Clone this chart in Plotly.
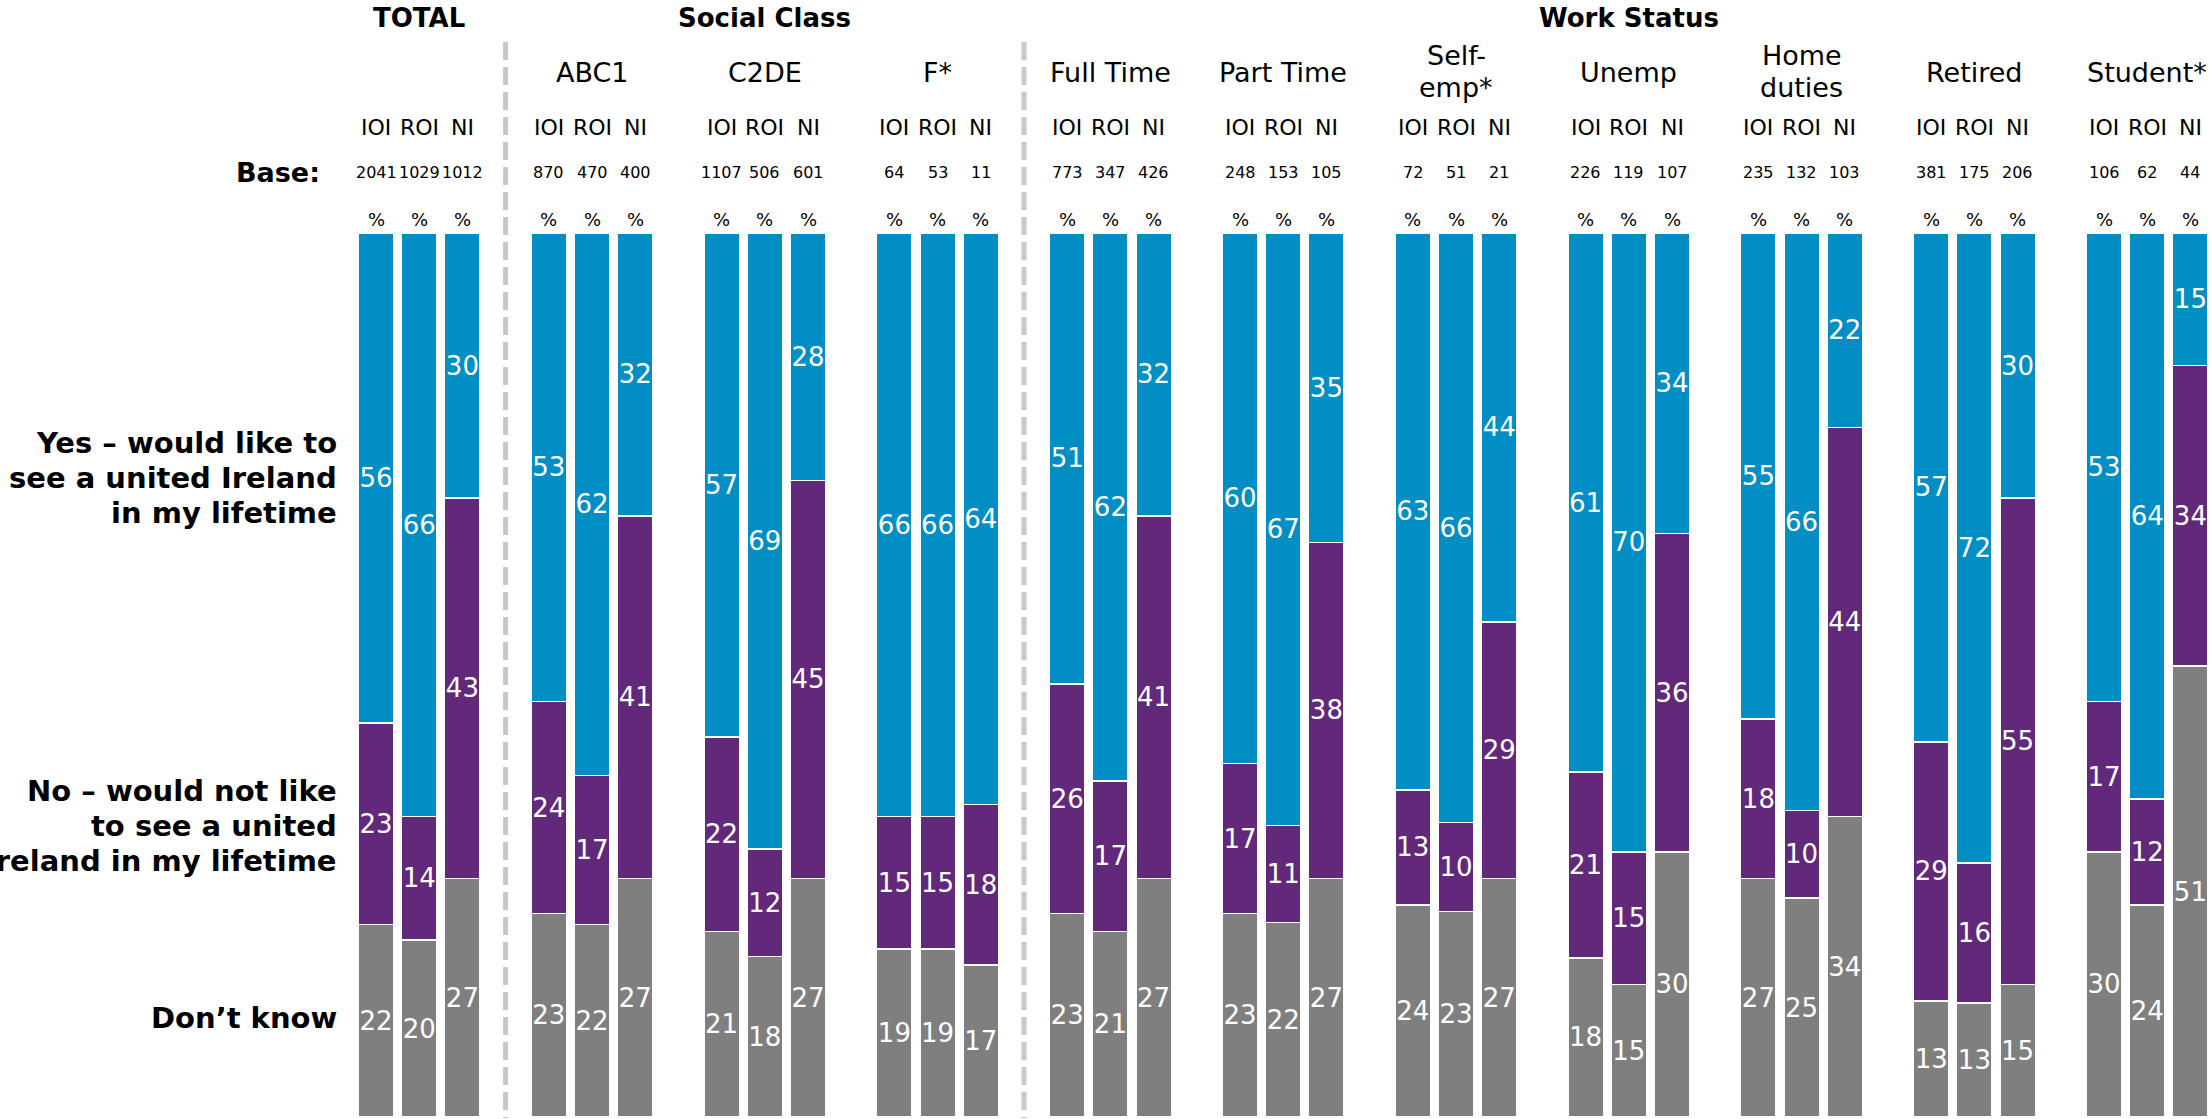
import plotly.graph_objects as go

# united Ireland question - stacked % by region, split by social class / work status

W, H = 2212, 1119

groups = ["", "ABC1", "C2DE", "F*", "Full Time", "Part Time", "Self-|emp*",
          "Unemp", "Home|duties", "Retired", "Student*"]
regions = ["IOI", "ROI", "NI"]

bases = [[2041, 1029, 1012], [870, 470, 400], [1107, 506, 601], [64, 53, 11],
         [773, 347, 426], [248, 153, 105], [72, 51, 21], [226, 119, 107],
         [235, 132, 103], [381, 175, 206], [106, 62, 44]]

yes = [[56, 66, 30], [53, 62, 32], [57, 69, 28], [66, 66, 64], [51, 62, 32],
       [60, 67, 35], [63, 66, 44], [61, 70, 34], [55, 66, 22], [57, 72, 30],
       [53, 64, 15]]
no = [[23, 14, 43], [24, 17, 41], [22, 12, 45], [15, 15, 18], [26, 17, 41],
      [17, 11, 38], [13, 10, 29], [21, 15, 36], [18, 10, 44], [29, 16, 55],
      [17, 12, 34]]
dk = [[22, 20, 27], [23, 22, 27], [21, 18, 27], [19, 19, 17], [23, 21, 27],
      [23, 22, 27], [24, 23, 27], [18, 15, 30], [27, 25, 34], [13, 13, 15],
      [30, 24, 51]]

# section headers: (title, first group, last group)
sections = [("TOTAL", 0, 0), ("Social Class", 1, 3), ("Work Status", 4, 10)]

answers = [["Yes – would like to", "see a united Ireland", "in my lifetime"],
           ["No – would not like", "to see a united", "Ireland in my lifetime"],
           ["Don’t know"]]

BLUE, PURPLE, GREY = "#008EC4", "#62297A", "#7F7F7F"
FONT = "DejaVu Sans, Verdana, sans-serif"


def flat(rows):
    return [v for r in rows for v in r]


xs = [4 * g + j for g in range(len(groups)) for j in range(3)]

fig = go.Figure()
# bottom to top: don't know, no, yes
for vals, col, name in [(dk, GREY, "Don't know"), (no, PURPLE, "No"), (yes, BLUE, "Yes")]:
    v = flat(vals)
    fig.add_trace(go.Bar(
        x=xs, y=v, name=name, marker_color=col,
        marker_line=dict(color="white", width=1.5),
        width=0.82, text=[str(t) for t in v],
        textposition="inside", insidetextanchor="middle", textangle=0,
        constraintext="none",
        textfont=dict(family=FONT, size=26, color="white"),
        hoverinfo="skip",
    ))


def py(p):
    return 1 - p / H


ann = []
for title, g0, g1 in sections:
    ann.append(dict(x=(4 * g0 + 4 * g1 + 2) / 2, y=py(18), text="<b>%s</b>" % title,
                    font=dict(size=26)))
for g, name in enumerate(groups):
    lines = name.split("|") if name else []
    if len(lines) == 1:
        ann.append(dict(x=4 * g + 1, y=py(72), text=lines[0], font=dict(size=27)))
    elif len(lines) == 2:
        ann.append(dict(x=4 * g + 1, y=py(56), text=lines[0], font=dict(size=27)))
        ann.append(dict(x=4 * g + 1, y=py(88), text=lines[1], font=dict(size=27)))
    for j in range(3):
        x = 4 * g + j
        ann.append(dict(x=x, y=py(127), text=regions[j], font=dict(size=22)))
        ann.append(dict(x=x, y=py(172), text=str(bases[g][j]), font=dict(size=16)))
        ann.append(dict(x=x, y=py(219), text="%", font=dict(size=18)))
for a in ann:
    a.update(xref="x", yref="paper", showarrow=False, xanchor="center", yanchor="middle")
    a["font"].update(family=FONT, color="black")

ann.append(dict(xref="paper", yref="paper", x=322 / W, y=py(172), text="<b>Base:</b>",
                showarrow=False, xanchor="right", yanchor="middle",
                font=dict(family=FONT, size=27, color="black")))
for lines, mid in zip(answers, [478, 826, 1018]):
    n = len(lines)
    for k, ln in enumerate(lines):
        ann.append(dict(xref="paper", yref="paper", x=339 / W,
                        y=py(mid + (k - (n - 1) / 2) * 35), text="<b>%s</b>" % ln,
                        showarrow=False, xanchor="right", yanchor="middle",
                        font=dict(family=FONT, size=29, color="black")))

shapes = [dict(type="line", xref="x", yref="paper", x0=xd, x1=xd, y0=py(42), y1=py(1118),
               line=dict(color="#C8C8C8", width=5, dash="18px,7px"))
          for xd in [3, 15]]

x0 = -376 / 43.2
fig.update_layout(
    width=W, height=H, margin=dict(l=0, r=0, t=0, b=0),
    barmode="stack", barnorm="percent", showlegend=False,
    plot_bgcolor="white", paper_bgcolor="white",
    xaxis=dict(range=[x0, x0 + W / 43.2], visible=False, fixedrange=True),
    yaxis=dict(range=[0, 100], domain=[py(1117), py(233)], visible=False, fixedrange=True),
    annotations=ann, shapes=shapes,
)

fig.write_html("out.html", config={"displayModeBar": False},
               post_script="document.body.style.margin='0';")
